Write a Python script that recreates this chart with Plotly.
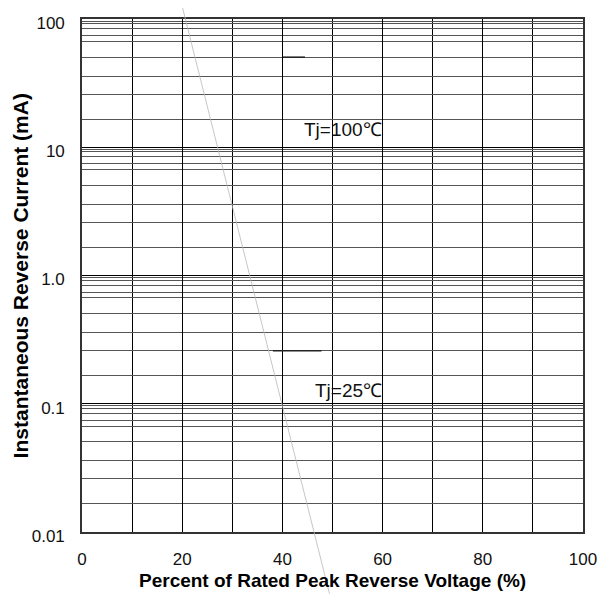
import math
import plotly.graph_objects as go

# ---- data ----
x_ticks = [0, 20, 40, 60, 80, 100]
y_ticks = [0.01, 0.1, 1, 10, 100]
y_tick_text = ["0.01", "0.1", "1.0", "10", "100"]
# irregular horizontal grid lines inside each decade (multipliers of the decade base)
y_grid_mult = [1.66, 2.59, 3.59, 5.04, 6.70, 7.41, 8.41, 9.20, 9.64]

seg1_x = [40.1, 44.5]
seg1_y = [50.4, 50.4]
seg2_x = [38.1, 47.8]
seg2_y = [0.259, 0.259]

diag_x = [19.7, 49.4]
diag_y = [140.0, 0.0033]

label_100 = "Tj=100\u2103"
label_25 = "Tj=25\u2103"
label_100_pos = (52.1, 13.8)
label_25_pos = (53.1, 0.126)

X_RANGE = [0, 100]
Y_RANGE_LOG = [-2, 2]

minor_vals = [b * m for b in [0.01, 0.1, 1, 10] for m in y_grid_mult]

fig = go.Figure()
fig.add_trace(go.Scatter(x=seg1_x, y=seg1_y, mode="lines",
                         line=dict(color="#222222", width=1.5),
                         showlegend=False, hoverinfo="skip"))
fig.add_trace(go.Scatter(x=seg2_x, y=seg2_y, mode="lines",
                         line=dict(color="#222222", width=1.5),
                         showlegend=False, hoverinfo="skip"))


def to_paper_x(v):
    return (v - X_RANGE[0]) / (X_RANGE[1] - X_RANGE[0])


def to_paper_y(v):
    return (math.log10(v) - Y_RANGE_LOG[0]) / (Y_RANGE_LOG[1] - Y_RANGE_LOG[0])


fig.add_shape(type="line", xref="paper", yref="paper",
              x0=to_paper_x(diag_x[0]), y0=to_paper_y(diag_y[0]),
              x1=to_paper_x(diag_x[1]), y1=to_paper_y(diag_y[1]),
              line=dict(color="#b8b8b8", width=0.8), layer="above")

txt_font = dict(family="Liberation Sans, Arial, sans-serif", size=19, color="#111111")
fig.add_annotation(x=label_100_pos[0], y=math.log10(label_100_pos[1]), text=label_100,
                   showarrow=False, font=txt_font, xanchor="center", yanchor="middle")
fig.add_annotation(x=label_25_pos[0], y=math.log10(label_25_pos[1]), text=label_25,
                   showarrow=False, font=txt_font, xanchor="center", yanchor="middle")

tick_font = dict(family="Liberation Sans, Arial, sans-serif", size=17, color="#111111")

# axis titles placed as annotations (fixed positions like the reference)
fig.add_annotation(xref="paper", yref="paper", x=0.5, y=-0.0936,
                   text="<b>Percent of Rated Peak Reverse Voltage (%)</b>",
                   showarrow=False, xanchor="center", yanchor="middle",
                   font=dict(family="Liberation Sans, Arial, sans-serif", size=19, color="#000000"))
fig.add_annotation(xref="paper", yref="paper", x=-0.122, y=0.5,
                   text="<b>Instantaneous Reverse Current (mA)</b>", textangle=-90,
                   showarrow=False, xanchor="center", yanchor="middle", borderpad=0,
                   font=dict(family="Liberation Sans, Arial, sans-serif", size=21, color="#000000"))

# the page body adds an 8px offset, so the figure is 8px smaller and shifted
fig.update_layout(
    width=600, height=586,
    margin=dict(l=74, r=25, t=11, b=62),
    paper_bgcolor="white", plot_bgcolor="white",
    showlegend=False,
    xaxis=dict(
        range=X_RANGE, tickvals=x_ticks, ticks="", showgrid=True,
        gridcolor="#000000", gridwidth=1.3, zeroline=False,
        showline=True, linecolor="#333333", linewidth=1.6, mirror=True,
        tickfont=tick_font, ticklabelstandoff=11, automargin=False,
        minor=dict(tickvals=[10, 30, 50, 70, 90], showgrid=True,
                   gridcolor="#000000", gridwidth=1.3),
    ),
    yaxis=dict(
        type="log", range=Y_RANGE_LOG, tickvals=y_ticks, ticktext=y_tick_text,
        ticks="", showgrid=True, gridcolor="#000000", gridwidth=1.3,
        zeroline=False, showline=True, linecolor="#333333", linewidth=1.6,
        mirror=True, tickfont=tick_font, ticklabelstandoff=12, ticklabelshift=4,
        automargin=False,
        minor=dict(tickvals=minor_vals, showgrid=True, gridcolor="#555555",
                   gridwidth=1.4),
    ),
)

fig.write_html("out.html")
